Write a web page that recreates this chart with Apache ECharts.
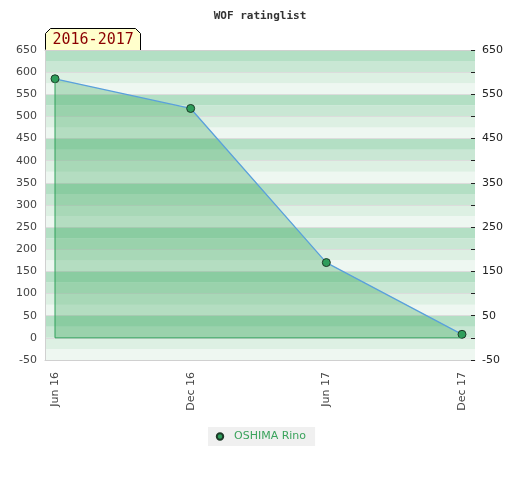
<!DOCTYPE html>
<html>
<head>
<meta charset="utf-8">
<script src="https://cdn.jsdelivr.net/npm/echarts@6/dist/echarts.min.js"></script>
<style>html,body{margin:0;padding:0;background:#fff}#c{width:520px;height:480px}</style>
</head>
<body>
<div id="c"></div>
<script>
var categories = ['Jun 16', 'Dec 16', 'Jun 17', 'Dec 17'];
var ratings = [585, 518, 170, 8];
var seriesName = 'OSHIMA Rino';
var titleText = 'WOF ratinglist';
var seasonLabel = '2016-2017';

var chart = echarts.init(document.getElementById('c'), null, {renderer: 'canvas'});
var lastCat = categories[categories.length - 1];
var edgeData = [[categories[0], ratings[0]], [categories[0], 0], [lastCat, 0]];
var font = 'DejaVu Sans';

chart.setOption({
  animation: false,
  title: {
    text: titleText, left: 'center', top: 6,
    textStyle: {fontFamily: 'DejaVu Sans Mono', fontWeight: 'bold', fontSize: 11, color: '#333'}
  },
  legend: {
    data: [seriesName], bottom: 34, left: 208,
    backgroundColor: '#f0f0f0', padding: [4, 9, 4, 7],
    itemWidth: 8, itemHeight: 8,
    textStyle: {color: '#3aa35c', fontSize: 11, fontFamily: font, padding: [0, 0, 0, 5]}
  },
  grid: [
    {left: 45, right: 45, top: 50, bottom: 120},
    {left: 55, right: 58, top: 50, bottom: 120}
  ],
  graphic: [{
    type: 'group', left: 45, top: 28, z: 100,
    children: [{
      type: 'polygon',
      shape: {points: [[0, 22], [0, 5], [5, 0], [90, 0], [95, 5], [95, 22]]},
      style: {fill: '#ffffcc', stroke: '#000', lineWidth: 1}
    }, {
      type: 'text', left: 7, top: 4,
      style: {text: seasonLabel, fill: '#8b0000', font: '15px "DejaVu Sans Mono"'}
    }]
  }],
  xAxis: [{
    gridIndex: 0, type: 'value', min: 0, max: 1, position: 'bottom',
    axisLine: {onZero: false, lineStyle: {color: '#d0d0d0', width: 1}},
    axisTick: {show: false}, splitLine: {show: false}, axisLabel: {show: false}
  }, {
    gridIndex: 0, type: 'value', min: 0, max: 1, position: 'top',
    axisLine: {onZero: false, lineStyle: {color: '#d0d0d0', width: 1}},
    axisTick: {show: false}, splitLine: {show: false}, axisLabel: {show: false}
  }, {
    gridIndex: 1, type: 'category', data: categories, boundaryGap: false, position: 'bottom',
    axisLine: {show: false, onZero: false}, axisTick: {show: false}, splitLine: {show: false},
    axisLabel: {rotate: 90, margin: 12, color: '#444', fontSize: 11, fontFamily: font, interval: 0}
  }],
  yAxis: [{
    gridIndex: 0, type: 'value', min: -50, max: 650, interval: 25, position: 'left',
    axisLine: {show: false}, axisTick: {show: false}, axisLabel: {show: false},
    splitLine: {show: false},
    splitArea: {show: true, areaStyle: {color: ['#eef7f1', '#ddf0e3', '#c9e7d4', '#b3dfc4']}}
  }, {
    gridIndex: 0, type: 'value', min: -50, max: 650, interval: 50, position: 'left',
    axisLine: {show: true, lineStyle: {color: '#d0d0d0'}},
    axisTick: {show: false},
    splitLine: {show: true, lineStyle: {color: '#dcdcdc', width: 1}},
    axisLabel: {color: '#444', fontSize: 11, fontFamily: font, margin: 8}
  }, {
    gridIndex: 0, type: 'value', position: 'right', min: -50, max: 650, interval: 50,
    axisLine: {show: false},
    axisTick: {show: true, inside: true, length: 4, lineStyle: {color: '#222'}},
    splitLine: {show: false},
    axisLabel: {
      color: '#222', fontSize: 11, fontFamily: font, margin: 7,
      formatter: function (v) { return ((v + 50) % 100 === 0) ? String(v) : ''; }
    }
  }, {
    gridIndex: 1, type: 'value', min: -50, max: 650, interval: 50,
    axisLine: {show: false}, axisTick: {show: false}, axisLabel: {show: false},
    splitLine: {show: false}
  }],
  series: [{
    name: seriesName, type: 'line', data: ratings,
    xAxisIndex: 2, yAxisIndex: 3, z: 3,
    symbol: 'circle', symbolSize: 8,
    lineStyle: {color: '#5aa0dc', width: 1.3},
    itemStyle: {color: '#2e9e5b', borderColor: '#1d3a28', borderWidth: 1},
    areaStyle: {origin: 0, color: 'rgba(41,159,79,0.42)'}
  }, {
    name: '_edge', type: 'line', data: edgeData,
    xAxisIndex: 2, yAxisIndex: 3, z: 4,
    symbol: 'none', silent: true,
    lineStyle: {color: '#2ea05a', width: 1}
  }]
});
</script>
</body>
</html>
